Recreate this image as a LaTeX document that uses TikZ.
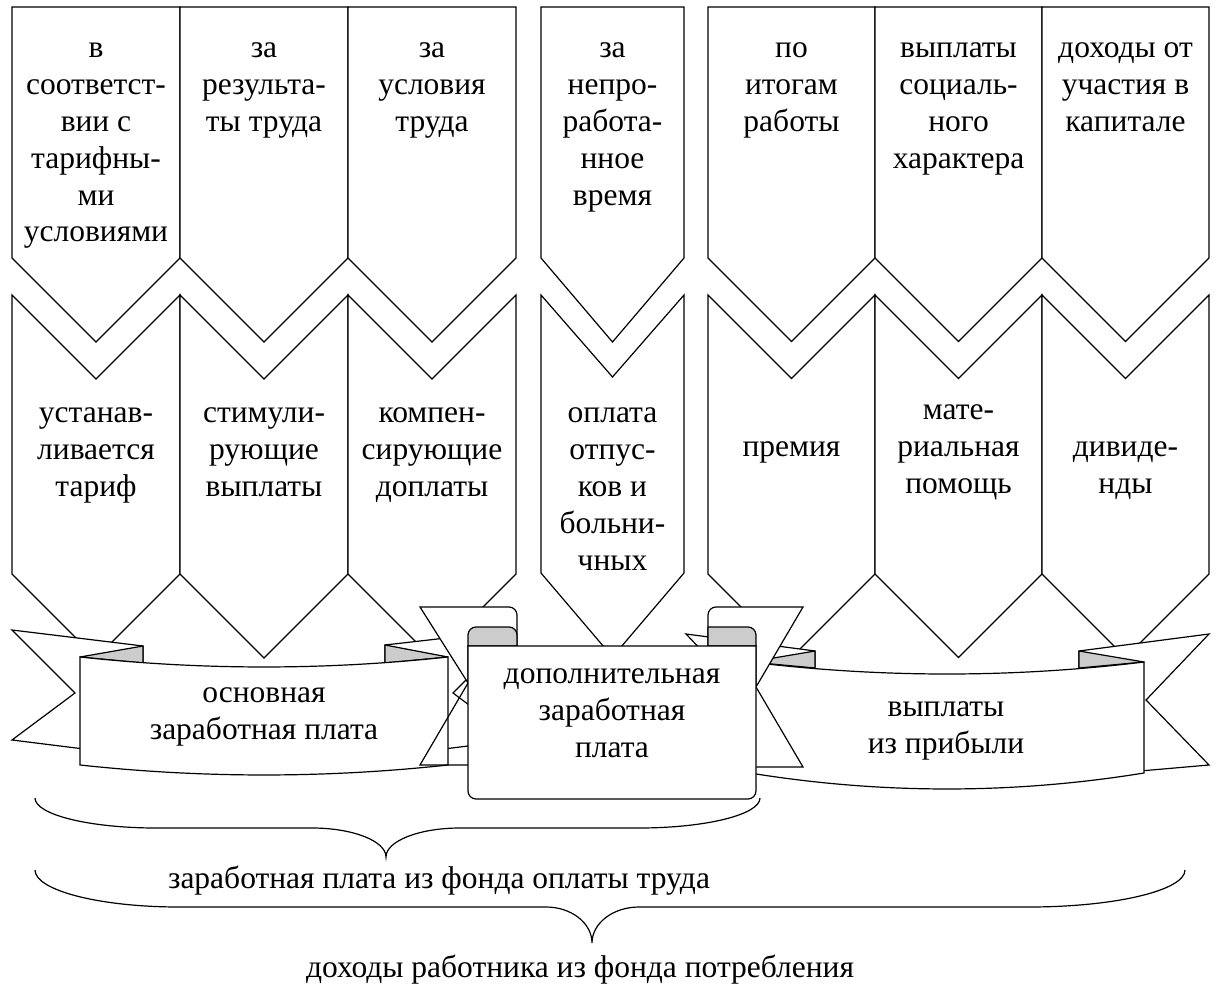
\documentclass[tikz,border=0pt]{standalone}
\usepackage{fontspec}
\setmainfont{Liberation Serif}
\definecolor{foldgray}{gray}{0.8}
\begin{document}
\begin{tikzpicture}[x=1pt,y=-1pt,
  outl/.style={draw=black,line width=1.2pt,line join=miter,fill=white},
  fold/.style={draw=black,line width=1.2pt,fill=foldgray,line join=round},
  edgeline/.style={draw=black,line width=1.2pt},
  brc/.style={draw=black,line width=1.2pt},
  txt/.style={font=\fontsize{31.5}{36.8}\selectfont,align=center,inner sep=0pt,anchor=north},
  bracelabel/.style={font=\fontsize{31.5}{36.8}\selectfont,inner sep=0pt,anchor=base}]
\useasboundingbox (0,0) rectangle (1216,992);

% ---- chevron columns (upper: source, lower: payment type)
\foreach \a/\b in {12/180,180/348,348/516,708/875,875/1042,1042/1209}{
  \pgfmathsetmacro\c{(\a+\b)/2}
  \pgfmathsetmacro\h{(\b-\a)/2}
  \draw[outl] (\a,7) -- (\b,7) -- (\b,258) -- (\c,{258+\h}) -- (\a,258) -- cycle;
  \draw[outl] (\a,295) -- (\c,{295+\h}) -- (\b,295) -- (\b,574) -- (\c,{574+\h}) -- (\a,574) -- cycle;
}
\draw[outl] (541,7) -- (684,7) -- (684,258) -- (612.5,342) -- (541,258) -- cycle;
\draw[outl] (541,295) -- (612.5,377) -- (684,295) -- (684,573) -- (612.5,657) -- (541,573) -- cycle;

% ---- texts of the upper chevrons
\node[txt] (t1) at (96,32)     {\strut в\\соответст-\\вии с\\тарифны-\\ми\\условиями};
\node[txt] (t2) at (264,32)    {\strut за\\результа-\\ты труда};
\node[txt] (t3) at (432,32)    {\strut за\\условия\\труда};
\node[txt] (t4) at (612.5,32)  {\strut за\\непро-\\работа-\\нное\\время};
\node[txt] (t5) at (791.5,32)  {\strut по\\итогам\\работы};
\node[txt] (t6) at (958.5,32)  {\strut выплаты\\социаль-\\ного\\характера};
\node[txt] (t7) at (1125.5,32) {\strut доходы от\\участия в\\капитале};

% ---- texts of the lower chevrons
\node[txt] (b1) at (96,397)     {\strut устанав-\\ливается\\тариф};
\node[txt] (b2) at (264,397)    {\strut стимули-\\рующие\\выплаты};
\node[txt] (b3) at (432,397)    {\strut компен-\\сирующие\\доплаты};
\node[txt] (b4) at (612.5,397)  {\strut оплата\\отпус-\\ков и\\больни-\\чных};
\node[txt] (b5) at (791.5,431)  {\strut премия};
\node[txt] (b6) at (958.5,394)  {\strut мате-\\риальная\\помощь};
\node[txt] (b7) at (1125.5,431) {\strut дивиде-\\нды};

% ---- left ribbon
\draw[outl] (12,630) -- (143,646) -- (143,700) -- (84,749) -- (12,740) -- (75,693) -- cycle;
\draw[outl] (516,630) -- (385,645) -- (385,700) -- (444,749) -- (516,740) -- (453,693) -- cycle;
\draw[fold] (80,657) -- (143,646) -- (143,663) -- cycle;
\draw[fold] (448,657) -- (385,645) -- (385,663) -- cycle;
\draw[outl] (80,657) .. controls (203,670.3) and (325,670.3) .. (448,657) -- (448,765)
  .. controls (325,778.3) and (203,778.3) .. (80,765) -- cycle;

% ---- right ribbon
\draw[outl] (686,634) -- (815,651) -- (815,700) -- (754,771) -- (686,765) -- (749,700) -- cycle;
\draw[outl] (1209,634) -- (1079,651) -- (1079,700) -- (1140,771) -- (1209,765) -- (1146,700) -- cycle;
\draw[fold] (750,662) -- (815,651) -- (815,668) -- cycle;
\draw[fold] (1144,662) -- (1079,651) -- (1079,668) -- cycle;
\draw[outl] (750,662) .. controls (881,678) and (1013,678) .. (1144,662) -- (1144,773)
  .. controls (1013,794.3) and (881,794.3) .. (750,773) -- cycle;

% ---- middle scroll: tails
\draw[outl] (420,607) -- (509,607) .. controls (513.4,607) and (517,610.6) .. (517,615)
  -- (517,646) -- (468,646) -- (468,683) -- cycle;
\draw[edgeline] (468,683) -- (420,765) -- (468,765);
\draw[outl] (803,607) -- (716,607) .. controls (711.6,607) and (708,610.6) .. (708,615)
  -- (708,646) -- (756,646) -- (756,687) -- cycle;
\draw[edgeline] (756,687) -- (803,767) -- (756,767);
% curls
\draw[fold] (468,646) -- (468,635) .. controls (468,630.6) and (471.6,627) .. (476,627)
  -- (509,627) .. controls (513.4,627) and (517,630.6) .. (517,635) -- (517,646) -- cycle;
\draw[fold] (708,646) -- (708,627) -- (748,627) .. controls (752.4,627) and (756,630.6) .. (756,635)
  -- (756,646) -- cycle;
% front sheet
\draw[outl] (468,646) -- (756,646) -- (756,791) .. controls (756,795.4) and (752.4,799) .. (748,799)
  -- (476,799) .. controls (471.6,799) and (468,795.4) .. (468,791) -- cycle;

% ---- ribbon texts
\node[txt] (lb) at (264,677) {\strut основная\\заработная плата};
\node[txt] (ms) at (612,658) {\strut дополнительная\\заработная\\плата};
\node[txt] (rb) at (946,691) {\strut выплаты\\из прибыли};

% ---- braces
\draw[brc] (35,798) .. controls (35,814.6) and (89.2,828) .. (156,828) -- (312,828)
  .. controls (352.8,828) and (386,841) .. (386,857)
  .. controls (386,841) and (419.2,828) .. (460,828) -- (639,828)
  .. controls (705.8,828) and (760,814.6) .. (760,798);
\draw[brc] (35,870) .. controls (35,890.4) and (99.5,907) .. (179,907) -- (546,907)
  .. controls (571.4,907) and (592,923.1) .. (592,943)
  .. controls (592,923.1) and (613.1,907) .. (639,907) -- (1029,907)
  .. controls (1115.1,907) and (1185,890.4) .. (1185,870);

\node[bracelabel] (fot) at (439,888) {заработная плата из фонда оплаты труда};
\node[bracelabel] (fp) at (580,977) {доходы работника из фонда потребления};
\end{tikzpicture}
\end{document}
